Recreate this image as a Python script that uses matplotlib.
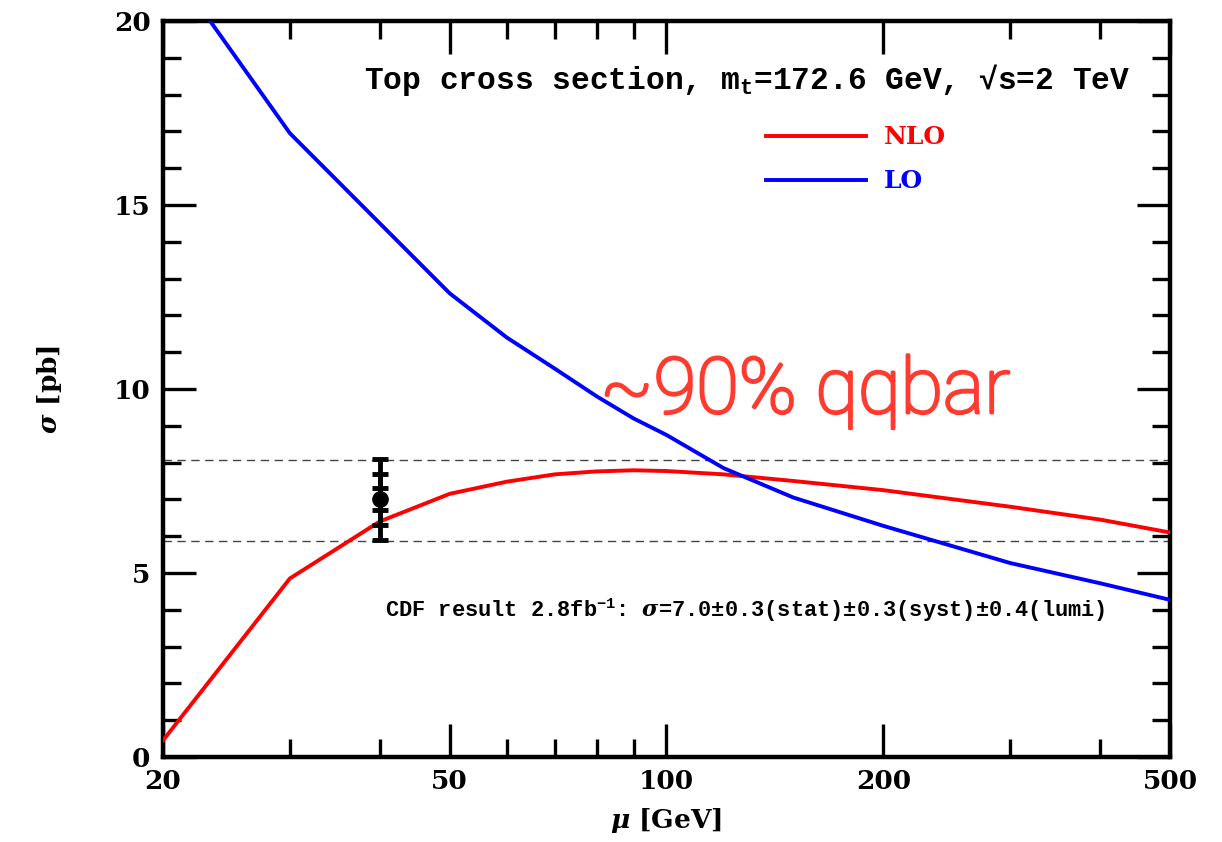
import matplotlib
matplotlib.use("Agg")
import matplotlib.pyplot as plt
import matplotlib.patheffects as pe
from matplotlib.ticker import FixedLocator, NullFormatter, FixedFormatter

# scale mu [GeV] and cross sections [pb]
mu = [20, 30, 40, 50, 60, 70, 80, 90, 100, 120, 150, 200, 300, 400, 500]
sigma_nlo = [0.45, 4.85, 6.4, 7.15, 7.48, 7.68, 7.76, 7.79, 7.77, 7.68, 7.5, 7.25, 6.8, 6.45, 6.1]
sigma_lo = [21.8, 16.95, 14.5, 12.6, 11.4, 10.55, 9.8, 9.2, 8.75, 7.85, 7.05, 6.28, 5.27, 4.72, 4.27]

# CDF measurement and its error levels
cdf_mu = 40
cdf_sigma = 7.0
cdf_errs = [1.1, 0.7, 0.3]
band_lo, band_hi = 5.88, 8.07

x_major = [20, 50, 100, 200, 500]
x_minor = [30, 40, 60, 70, 80, 90, 300, 400]

plt.rcParams['font.family'] = 'DejaVu Serif'
plt.rcParams['font.weight'] = 'bold'
plt.rcParams['axes.labelweight'] = 'bold'
plt.rcParams['mathtext.fontset'] = 'custom'
plt.rcParams['mathtext.rm'] = 'Liberation Mono:bold'
plt.rcParams['mathtext.bf'] = 'Liberation Mono:bold'
plt.rcParams['mathtext.it'] = 'DejaVu Serif:italic:bold'

mono = 'Liberation Mono'

fig = plt.figure(figsize=(12.22, 8.42), dpi=100)
ax = fig.add_axes([0.1334, 0.1010, 0.8240, 0.8741])

ax.plot(mu, sigma_nlo, color='#ff0000', lw=2.8, label='NLO', zorder=3)
ax.plot(mu, sigma_lo, color='#0000ff', lw=2.8, label='LO', zorder=3)

ax.axhline(band_hi, color='#444444', lw=1.0, ls=(0, (6, 4)), zorder=1)
ax.axhline(band_lo, color='#444444', lw=1.0, ls=(0, (6, 4)), zorder=1)

for e in cdf_errs:
    ax.errorbar([cdf_mu], [cdf_sigma], yerr=[e], fmt='none', ecolor='black',
                elinewidth=3.5, capsize=6, capthick=3.5, zorder=4)
ax.plot([cdf_mu], [cdf_sigma], 'o', color='black', ms=11, zorder=5)

ax.set_xscale('log')
ax.set_xlim(20, 500)
ax.set_ylim(0, 20)

ax.xaxis.set_major_locator(FixedLocator(x_major))
ax.xaxis.set_major_formatter(FixedFormatter([str(v) for v in x_major]))
ax.xaxis.set_minor_locator(FixedLocator(x_minor))
ax.xaxis.set_minor_formatter(NullFormatter())
ax.yaxis.set_major_locator(FixedLocator([0, 5, 10, 15, 20]))
ax.yaxis.set_minor_locator(FixedLocator(range(0, 21)))

for s in ax.spines.values():
    s.set_linewidth(3.2)
ax.tick_params(which='both', direction='in', top=True, right=True, width=2.4)
ax.tick_params(which='major', length=24, labelsize=19, pad=9)
ax.tick_params(which='minor', length=13)

ax.set_xlabel(r'$\mu$ [GeV]', fontsize=19, labelpad=8)
ax.set_ylabel(r'$\sigma$ [pb]', fontsize=19, labelpad=36)

ax.text(0.961, 0.920, r'Top cross section, m$_{\mathrm{t}}$=172.6 GeV, √s=2 TeV',
        transform=ax.transAxes, ha='right', va='center', fontsize=22.5,
        family=[mono, 'DejaVu Sans'], weight='bold')

ax.text(0.2205, 0.1997,
        r'CDF result 2.8fb$^{-1}$: $\sigma$=7.0±0.3(stat)±0.3(syst)±0.4(lumi)',
        transform=ax.transAxes, ha='left', va='center', fontsize=15.8,
        family=mono, weight='bold')

leg = ax.legend(loc='upper left', bbox_to_anchor=(0.599, 0.858), frameon=False,
                handlelength=4.0, handletextpad=0.7, labelspacing=0.8,
                borderpad=0, borderaxespad=0, prop={'size': 18, 'weight': 'bold'})
for txt, line in zip(leg.get_texts(), leg.get_lines()):
    txt.set_color(line.get_color())

note_color = '#ff3b2f'
fig.text(0.491, 0.5095, '~90% qqbar', color=note_color, fontsize=56,
         family='Roboto', weight='light', ha='left', va='baseline',
         path_effects=[pe.withStroke(linewidth=2.0, foreground=note_color)])

fig.savefig('out.png', dpi=100)
